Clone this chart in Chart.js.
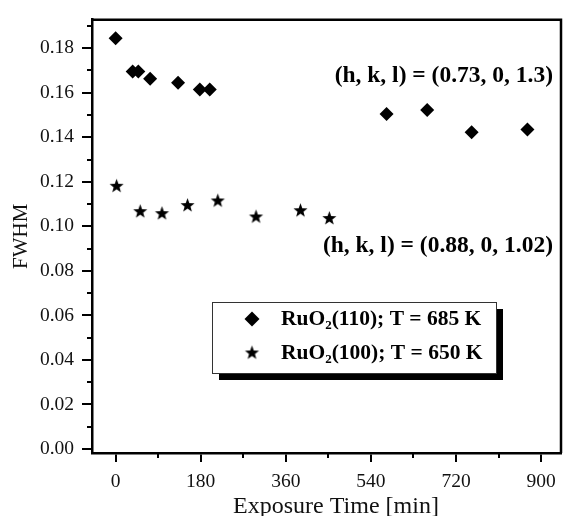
<!DOCTYPE html>
<html><head><meta charset="utf-8">
<script src="https://cdn.jsdelivr.net/npm/chart.js@4"></script>
<style>html,body{margin:0;padding:0;background:#fff}</style>
</head><body>
<canvas id="c" width="568" height="516" style="width:568px;height:516px;display:block"></canvas>
<script>
// ---- data ----
const ruo110Time = [0, 36, 48, 73, 132, 178, 199, 573, 659, 753, 871];
const ruo110Fwhm = [0.1845, 0.1695, 0.1695, 0.1663, 0.1645, 0.1615, 0.1615, 0.1505, 0.1522, 0.1422, 0.1435];
const ruo100Time = [2, 52, 98, 152, 216, 297, 391, 452];
const ruo100Fwhm = [0.118, 0.1066, 0.1057, 0.1093, 0.1114, 0.1042, 0.107, 0.1035];
const xTicks = [0, 180, 360, 540, 720, 900];
const xMinorTicks = [90, 270, 450, 630, 810];
const yTicks = [0, 0.02, 0.04, 0.06, 0.08, 0.10, 0.12, 0.14, 0.16, 0.18];
const yTickLabels = ['0.00','0.02','0.04','0.06','0.08','0.10','0.12','0.14','0.16','0.18'];
const yMinorTicks = [0.01, 0.03, 0.05, 0.07, 0.09, 0.11, 0.13, 0.15, 0.17, 0.19];
const legend110 = ['RuO', '2', '(110); T = 685 K'];
const legend100 = ['RuO', '2', '(100); T = 650 K'];
const note110 = '(h, k, l) = (0.73, 0, 1.3)';
const note100 = '(h, k, l) = (0.88, 0, 1.02)';
const xTitle = 'Exposure Time [min]';
const yTitle = 'FWHM';

const SERIF = '"Liberation Serif", "Times New Roman", serif';

function makeStar(R, r) {
  const s = Math.ceil(2 * R) + 2;
  const c = document.createElement('canvas');
  c.width = c.height = s;
  const g = c.getContext('2d');
  g.beginPath();
  for (let i = 0; i < 10; i++) {
    const a = -Math.PI / 2 + i * Math.PI / 5;
    const rr = i % 2 ? r : R;
    g.lineTo(s / 2 + rr * Math.cos(a), s / 2 + rr * Math.sin(a));
  }
  g.closePath();
  g.fillStyle = '#000';
  g.fill();
  return c;
}
const starImg = makeStar(7.4, 3.1);

function drawDiamond(ctx, x, y, r) {
  ctx.beginPath();
  ctx.moveTo(x - r, y); ctx.lineTo(x, y - r); ctx.lineTo(x + r, y); ctx.lineTo(x, y + r);
  ctx.closePath(); ctx.fill();
}

function drawSubText(ctx, parts, x, y, size) {
  ctx.font = 'bold ' + size + 'px ' + SERIF;
  ctx.textBaseline = 'middle';
  ctx.textAlign = 'left';
  ctx.fillText(parts[0], x, y);
  x += ctx.measureText(parts[0]).width;
  ctx.font = 'bold ' + Math.round(size * 0.6) + 'px ' + SERIF;
  ctx.fillText(parts[1], x, y + size * 0.32);
  x += ctx.measureText(parts[1]).width;
  ctx.font = 'bold ' + size + 'px ' + SERIF;
  ctx.fillText(parts[2], x, y);
}

const decor = {
  id: 'decor',
  afterDraw(chart) {
    const ctx = chart.ctx;
    const a = chart.chartArea;
    const xs = chart.scales.x, ys = chart.scales.y;
    ctx.save();
    ctx.strokeStyle = '#000';
    ctx.fillStyle = '#000';
    // frame
    ctx.lineWidth = 2.5;
    ctx.beginPath();
    ctx.moveTo(a.left, a.top); ctx.lineTo(a.right, a.top); ctx.lineTo(a.right, a.bottom);
    ctx.stroke();
    // minor ticks
    ctx.lineWidth = 2;
    ctx.beginPath();
    xMinorTicks.forEach(v => {
      const px = Math.round(xs.getPixelForValue(v));
      ctx.moveTo(px, a.bottom); ctx.lineTo(px, a.bottom + 5);
    });
    yMinorTicks.forEach(v => {
      const py = Math.round(ys.getPixelForValue(v));
      ctx.moveTo(a.left, py); ctx.lineTo(a.left - 5, py);
    });
    ctx.stroke();
    // x axis title
    ctx.fillStyle = '#111';
    ctx.font = '24px ' + SERIF;
    ctx.textAlign = 'center';
    ctx.textBaseline = 'middle';
    ctx.fillText(xTitle, 336, 507);
    ctx.fillStyle = '#000';
    // annotations
    ctx.font = 'bold 23.5px ' + SERIF;
    ctx.textAlign = 'right';
    ctx.textBaseline = 'middle';
    ctx.fillText(note110, 553, 76);
    ctx.fillText(note100, 553, 246);
    // legend box
    const bx = 212, by = 302, bw = 284, bh = 71;
    ctx.fillRect(bx + 7, by + 7, bw, bh);
    ctx.fillStyle = '#fff';
    ctx.fillRect(bx, by, bw, bh);
    ctx.lineWidth = 1;
    ctx.strokeStyle = '#333';
    ctx.strokeRect(bx + 0.5, by + 0.5, bw, bh);
    ctx.fillStyle = '#000';
    drawDiamond(ctx, 252, 319, 7.5);
    ctx.drawImage(starImg, 252 - starImg.width / 2, 353 - starImg.height / 2);
    drawSubText(ctx, legend110, 281, 319, 21.5);
    drawSubText(ctx, legend100, 281, 353, 21.5);
    ctx.restore();
  }
};

new Chart(document.getElementById('c'), {
  type: 'scatter',
  data: {
    datasets: [
      {
        label: legend110.join(''),
        data: ruo110Time.map((t, i) => ({ x: t, y: ruo110Fwhm[i] })),
        pointStyle: 'rectRot', pointRadius: 7, pointHoverRadius: 7,
        backgroundColor: '#000', borderColor: '#000', borderWidth: 0
      },
      {
        label: legend100.join(''),
        data: ruo100Time.map((t, i) => ({ x: t, y: ruo100Fwhm[i] })),
        pointStyle: starImg, pointRadius: 7,
        backgroundColor: '#000', borderColor: '#000', borderWidth: 0
      }
    ]
  },
  options: {
    responsive: false,
    animation: false,
    events: [],
    layout: { padding: { top: 13, right: 2, left: 0, bottom: 0 } },
    plugins: { legend: { display: false }, title: { display: false }, tooltip: { enabled: false } },
    scales: {
      x: {
        type: 'linear', min: -50, max: 942,
        afterFit: s => { s.height = 63; },
        afterBuildTicks: s => { s.ticks = xTicks.map(v => ({ value: v })); },
        grid: { display: true, drawOnChartArea: false, drawTicks: true, tickLength: 9, lineWidth: 2, color: '#000' },
        border: { display: true, width: 2.5, color: '#000' },
        ticks: { color: '#111', padding: 8, maxRotation: 0, autoSkip: false,
          font: { family: SERIF, size: 19.5 }, callback: v => String(v) },
        title: { display: false, text: xTitle }
      },
      y: {
        type: 'linear', min: -0.0018, max: 0.1928,
        afterFit: s => { s.width = 92; },
        afterBuildTicks: s => { s.ticks = yTicks.map(v => ({ value: v })); },
        grid: { display: true, drawOnChartArea: false, drawTicks: true, tickLength: 10, lineWidth: 2, color: '#000' },
        border: { display: true, width: 2.5, color: '#000' },
        ticks: { color: '#111', padding: 8, autoSkip: false,
          font: { family: SERIF, size: 19.5 },
          callback: v => { const i = yTicks.findIndex(t => Math.abs(t - v) < 1e-9); return i >= 0 ? yTickLabels[i] : ''; } },
        title: { display: true, text: yTitle, color: '#111', font: { family: SERIF, size: 21, lineHeight: 1.2 }, padding: { top: 9, bottom: 0 } }
      }
    }
  },
  plugins: [decor]
});
</script>
</body></html>
